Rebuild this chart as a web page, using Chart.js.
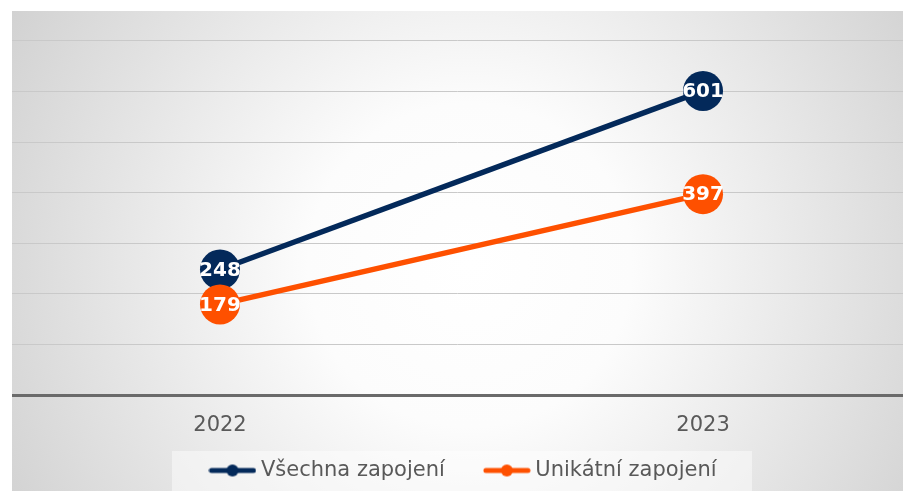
<!DOCTYPE html>
<html>
<head>
<meta charset="utf-8">
<script src="https://cdn.jsdelivr.net/npm/chart.js@4/dist/chart.umd.min.js"></script>
<style>
html,body{margin:0;padding:0;background:#fff;}
#wrap{width:903px;height:491px;position:relative;}
</style>
</head>
<body>
<div id="wrap"><canvas id="c"></canvas></div>
<script>
const years = ['2022', '2023'];
const allEngagements = [248, 601];
const uniqueEngagements = [179, 397];
const seriesNames = ['Všechna zapojení', 'Unikátní zapojení'];
const yTicks = [0, 100, 200, 300, 400, 500, 600, 700];

const NAVY = '#03295a';
const ORANGE = '#fe5000';
const FONT = "'DejaVu Sans', Verdana, sans-serif";

function marker(color) {
  const c = document.createElement('canvas');
  c.width = 48; c.height = 14;
  const g = c.getContext('2d');
  g.strokeStyle = color; g.lineWidth = 5; g.lineCap = 'round';
  g.beginPath(); g.moveTo(3, 7); g.lineTo(45, 7); g.stroke();
  g.fillStyle = color;
  g.beginPath(); g.arc(24, 7, 6, 0, Math.PI * 2); g.fill();
  return c;
}
const markers = [marker(NAVY), marker(ORANGE)];

const bgPlugin = {
  id: 'bg',
  afterLayout(chart) {
    const lg = chart.legend;
    if (lg) {
      lg.left += 8; lg.right += 8;
      lg.top = chart.height - 75;
    }
  },
  beforeDraw(chart) {
    const ctx = chart.ctx;
    ctx.save();
    ctx.fillStyle = '#ffffff';
    ctx.fillRect(0, 0, chart.width, chart.height);
    const grad = ctx.createRadialGradient(470, 265, 0, 470, 265, 540);
    grad.addColorStop(0, '#ffffff');
    grad.addColorStop(0.3, '#fcfcfc');
    grad.addColorStop(1, '#d0d0d0');
    ctx.fillStyle = grad;
    ctx.fillRect(12, 11, chart.width - 12, chart.height - 11);
    ctx.fillStyle = 'rgba(255,255,255,0.45)';
    ctx.fillRect(172, 451, 580, 40);
    ctx.restore();
  }
};

const labelPlugin = {
  id: 'vlabels',
  afterDatasetsDraw(chart) {
    const ctx = chart.ctx;
    ctx.save();
    ctx.font = "bold 20px " + FONT;
    ctx.fillStyle = '#ffffff';
    ctx.textAlign = 'center';
    ctx.textBaseline = 'middle';
    chart.data.datasets.forEach((ds, di) => {
      const meta = chart.getDatasetMeta(di);
      meta.data.forEach((pt, i) => {
        ctx.fillText(String(ds.data[i].y), pt.x, pt.y + 1);
      });
    });
    ctx.restore();
  }
};

new Chart(document.getElementById('c'), {
  type: 'line',
  data: {
    datasets: [
      {
        label: seriesNames[0],
        data: allEngagements.map((v, i) => ({x: i, y: v})),
        borderColor: NAVY, backgroundColor: NAVY,
        pointBackgroundColor: NAVY, pointBorderWidth: 0,
        pointRadius: 20, pointHoverRadius: 20,
        borderWidth: 5.5, order: 1
      },
      {
        label: seriesNames[1],
        data: uniqueEngagements.map((v, i) => ({x: i, y: v})),
        borderColor: ORANGE, backgroundColor: ORANGE,
        pointBackgroundColor: ORANGE, pointBorderWidth: 0,
        pointRadius: 20, pointHoverRadius: 20,
        borderWidth: 5.5, order: 0
      }
    ]
  },
  options: {
    responsive: true,
    maintainAspectRatio: false,
    devicePixelRatio: 1,
    animation: false,
    layout: {autoPadding: false, padding: {left: 12, top: 11, right: 0, bottom: 0}},
    plugins: {
      tooltip: {enabled: false},
      legend: {
        position: 'bottom',
        maxHeight: 40,
        labels: {
          usePointStyle: true,
          pointStyleWidth: 36,
          padding: 44,
          color: '#595959',
          font: {family: FONT, size: 21},
          sort: (a, b) => a.datasetIndex - b.datasetIndex,
          generateLabels(chart) {
            const items = Chart.defaults.plugins.legend.labels.generateLabels(chart);
            items.forEach(it => { it.pointStyle = markers[it.datasetIndex]; });
            return items;
          }
        }
      }
    },
    scales: {
      x: {
        type: 'linear',
        min: -0.4306,
        max: 1.414,
        afterBuildTicks(scale) { scale.ticks = years.map((_, i) => ({value: i})); },
        afterFit(scale) {
          const lh = scale.chart.legend ? scale.chart.legend.height : 0;
          scale.height = 491 - 395 - lh;
        },
        grid: {display: false, drawTicks: false},
        border: {display: false},
        ticks: {
          padding: 18,
          color: '#595959',
          font: {family: FONT, size: 21},
          callback: v => years[v] ?? ''
        }
      },
      y: {
        min: 0,
        max: 759,
        afterBuildTicks(scale) { scale.ticks = yTicks.map(v => ({value: v})); },
        afterFit(scale) { scale.width = 0; },
        border: {display: false},
        grid: {
          drawTicks: false,
          color: c => c.tick && c.tick.value === 0 ? '#6a6a6a' : '#c9c9c9',
          lineWidth: c => c.tick && c.tick.value === 0 ? 3 : 1
        },
        ticks: {display: false}
      }
    }
  },
  plugins: [bgPlugin, labelPlugin]
});
</script>
</body>
</html>
